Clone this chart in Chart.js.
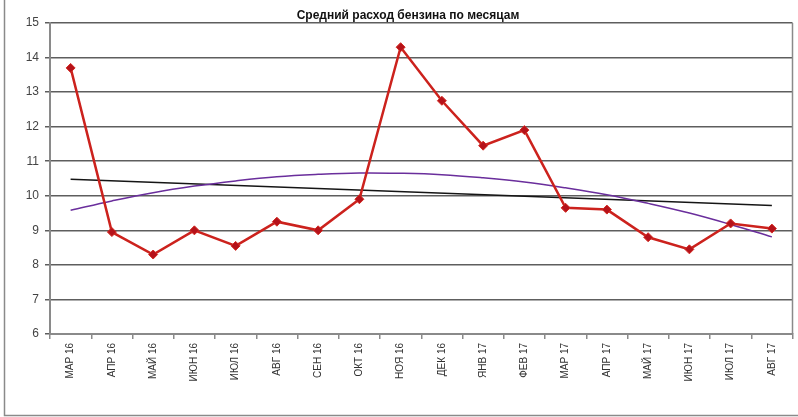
<!DOCTYPE html>
<html>
<head>
<meta charset="utf-8">
<script src="https://cdn.jsdelivr.net/npm/chart.js@4"></script>
<style>
  html, body { margin: 0; padding: 0; background: #fff; }
  #wrap { width: 798px; height: 417px; }
</style>
</head>
<body>
<div id="wrap"><canvas id="fuelChart" width="798" height="417"></canvas></div>
<script>
var months = ['МАР 16', 'АПР 16', 'МАЙ 16', 'ИЮН 16', 'ИЮЛ 16', 'АВГ 16', 'СЕН 16', 'ОКТ 16', 'НОЯ 16',
  'ДЕК 16', 'ЯНВ 17', 'ФЕВ 17', 'МАР 17', 'АПР 17', 'МАЙ 17', 'ИЮН 17', 'ИЮЛ 17', 'АВГ 17'];
var consumption = [13.7, 8.95, 8.3, 9.0, 8.55, 9.25, 9.0, 9.9, 14.3,
  12.75, 11.45, 11.9, 9.65, 9.6, 8.8, 8.45, 9.2, 9.05];
// linear trend, only ends
var trendLinear = [10.48, null, null, null, null, null, null, null, null,
  null, null, null, null, null, null, null, null, 9.72];
// polynomial trend read per month
var trendPoly = [9.58, 9.85, 10.09, 10.28, 10.43, 10.55, 10.62, 10.66, 10.65,
  10.61, 10.52, 10.40, 10.23, 10.03, 9.78, 9.50, 9.17, 8.81];
var yTicks = [6, 7, 8, 9, 10, 11, 12, 13, 14, 15];
var chartTitle = 'Средний расход бензина по месяцам';

var frame = {
  id: 'frame',
  beforeDraw: function (chart) {
    var c = chart.ctx;
    c.save();
    c.fillStyle = '#fff';
    c.fillRect(0, 0, chart.width, chart.height);
    c.strokeStyle = '#8a8a8a';
    c.lineWidth = 1.5;
    c.beginPath();
    c.moveTo(4.5, 0);
    c.lineTo(4.5, 415.5);
    c.lineTo(chart.width, 415.5);
    c.stroke();
    c.restore();
  },
  afterDatasetsDraw: function (chart) {
    var a = chart.chartArea, c = chart.ctx;
    c.save();
    c.strokeStyle = '#8a8a8a';
    c.lineWidth = 1.5;
    c.beginPath();
    c.moveTo(a.right, a.top);
    c.lineTo(a.right, a.bottom);
    c.stroke();
    c.fillStyle = '#111';
    c.font = 'bold 12px "Liberation Sans", Arial, sans-serif';
    c.textAlign = 'center';
    c.textBaseline = 'middle';
    c.fillText(chartTitle, 408, 16);
    c.restore();
  }
};

var ctx = document.getElementById('fuelChart').getContext('2d');
var fuelChart = new Chart(ctx, {
  type: 'line',
  data: {
    labels: months,
    datasets: [
      {
        label: 'Расход',
        data: consumption,
        borderColor: '#cc221d',
        borderWidth: 2.5,
        pointStyle: 'rectRot',
        pointRadius: 4.5,
        pointBackgroundColor: '#b5121a',
        pointBorderColor: '#d42a22',
        pointBorderWidth: 1,
        tension: 0,
        order: 1
      },
      {
        label: 'Линейный тренд',
        data: trendLinear,
        borderColor: '#151515',
        borderWidth: 1.5,
        pointRadius: 0,
        spanGaps: true,
        order: 3
      },
      {
        label: 'Полиномиальный тренд',
        data: trendPoly,
        borderColor: '#6a2e9c',
        borderWidth: 1.5,
        pointRadius: 0,
        tension: 0.4,
        order: 2
      }
    ]
  },
  options: {
    responsive: false,
    animation: false,
    layout: { padding: { top: 23, right: 3, bottom: 3, left: 0 } },
    plugins: {
      legend: { display: false },
      title: { display: false },
      tooltip: { enabled: false }
    },
    scales: {
      x: {
        offset: true,
        afterFit: function (s) { s.height = 80; },
        grid: {
          offset: true,
          drawOnChartArea: false,
          drawTicks: true,
          tickLength: 5,
          color: '#8a8a8a',
          lineWidth: 1.5
        },
        border: { color: '#8a8a8a', width: 2 },
        ticks: {
          autoSkip: false,
          minRotation: 90,
          maxRotation: 90,
          padding: 4,
          color: '#333',
          font: { family: '"Liberation Sans", Arial, sans-serif', size: 10 }
        }
      },
      y: {
        min: 6,
        max: 15,
        afterFit: function (s) { s.width = 50; },
        afterBuildTicks: function (s) {
          s.ticks = yTicks.map(function (v) { return { value: v }; });
        },
        grid: {
          color: '#5e5e5e',
          lineWidth: 1.5,
          tickLength: 5
        },
        border: { color: '#8a8a8a', width: 2 },
        ticks: {
          padding: 6,
          color: '#444',
          font: { family: '"Liberation Sans", Arial, sans-serif', size: 12 }
        }
      }
    }
  },
  plugins: [frame]
});
</script>
</body>
</html>
